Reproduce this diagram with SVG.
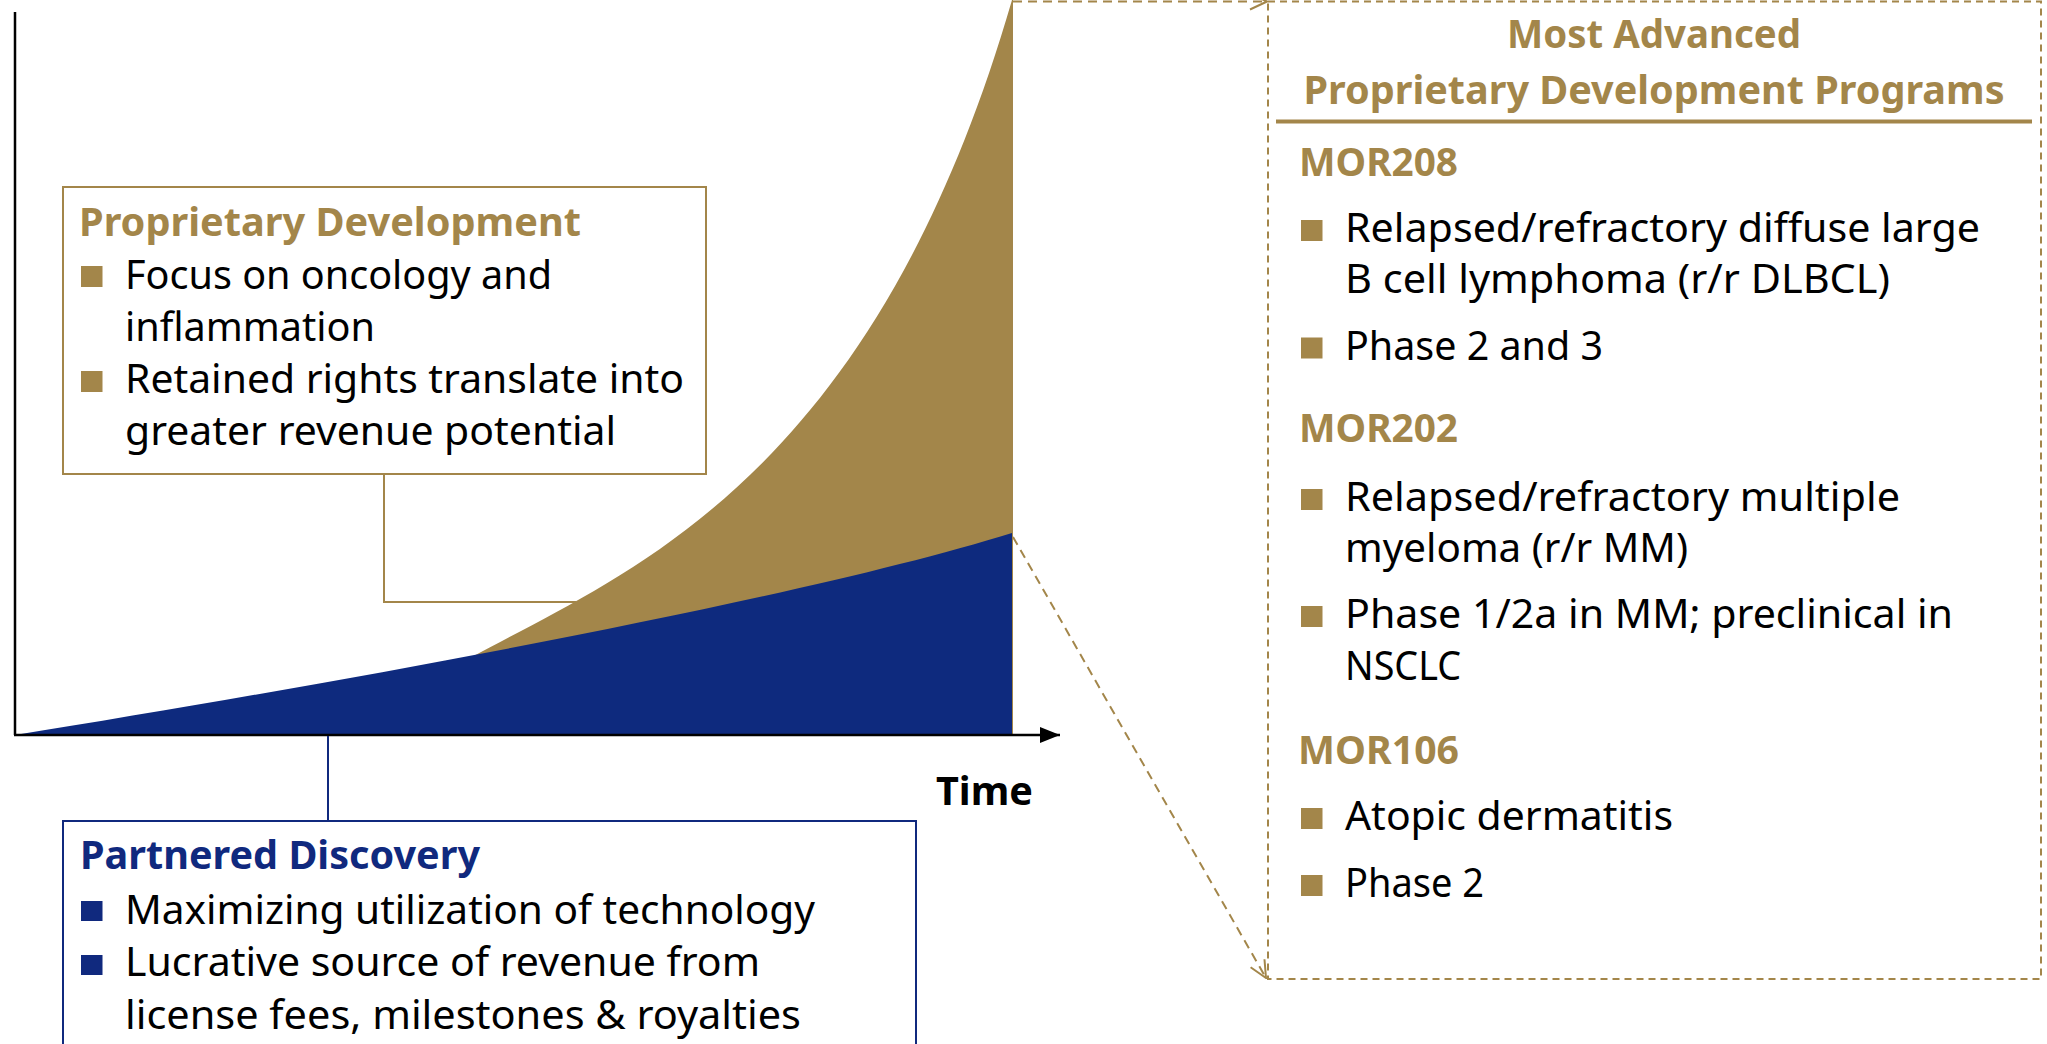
<svg xmlns="http://www.w3.org/2000/svg" width="2047" height="1044" viewBox="0 0 2047 1044">
  <style>
    text { font-family: "Noto Sans", "DejaVu Sans", sans-serif; }
    .body { font-size: 40px; fill: #000000; }
    .ttl { font-size: 39px; font-weight: bold; }
    .gold { fill: #A3864A; }
    .blue { fill: #10297E; }
    .blk { fill: #000000; }
    .gold-line { stroke: #A3864A; stroke-width: 2; fill: none; }
    .blue-line { stroke: #10297E; stroke-width: 2; fill: none; }
    .dash { stroke: #A3864A; stroke-width: 2; fill: none; stroke-dasharray: 9 6; }
  </style>
  <defs>
    <marker id="openArrow" viewBox="0 0 20 20" refX="19" refY="10" markerWidth="20" markerHeight="20" markerUnits="userSpaceOnUse" orient="auto">
      <path d="M2,2 L19,10 L2,18" fill="none" stroke="#A3864A" stroke-width="2"/>
    </marker>
    <marker id="axisArrow" viewBox="0 0 20 16" refX="20" refY="8" markerWidth="20" markerHeight="16" markerUnits="userSpaceOnUse" orient="auto">
      <path d="M0,0 L20,8 L0,16 Z" fill="#000000"/>
    </marker>
  </defs>

  <rect width="2047" height="1044" fill="#FFFFFF"/>

  <!-- growth chart: proprietary (gold) above partnered (blue) -->
  <g id="chart">
    <path id="area-proprietary" d="M470,658 C628,572 873,480 1012,0 L1013,0 L1013,735 L470,735 Z" fill="#A3864A"/>
    <path id="area-partnered" d="M15,735 C350,681 800,599 1012,533 L1012,735 Z" fill="#0E2A7E"/>
    <line x1="15" y1="12" x2="15" y2="735" stroke="#000" stroke-width="2.5"/>
    <line x1="14" y1="735" x2="1060" y2="735" stroke="#000" stroke-width="2.5" marker-end="url(#axisArrow)"/>
    <text class="ttl blk" x="936" y="805" textLength="97" lengthAdjust="spacingAndGlyphs">Time</text>
  </g>

  <!-- connectors -->
  <g id="connectors">
    <polyline class="gold-line" points="384,474 384,602 576,602"/>
    <line class="blue-line" x1="328" y1="736" x2="328" y2="821"/>
    <line class="dash" x1="1013" y1="1.5" x2="1267" y2="1.5" marker-end="url(#openArrow)"/>
    <line class="dash" x1="1013" y1="537" x2="1266" y2="978" marker-end="url(#openArrow)"/>
  </g>

  <!-- Proprietary Development callout -->
  <g id="node-proprietary">
    <rect x="63" y="187" width="643" height="287" fill="#FFFFFF" stroke="#A3864A" stroke-width="2"/>
    <text class="ttl gold" x="79" y="236" textLength="502" lengthAdjust="spacingAndGlyphs">Proprietary Development</text>
    <rect class="gold" x="81" y="266" width="21.5" height="21"/>
    <text class="body" x="125" y="289" textLength="427" lengthAdjust="spacingAndGlyphs">Focus on oncology and</text>
    <text class="body" x="125" y="341" textLength="250" lengthAdjust="spacingAndGlyphs">inflammation</text>
    <rect class="gold" x="81" y="371" width="21.5" height="21"/>
    <text class="body" x="125" y="393" textLength="559" lengthAdjust="spacingAndGlyphs">Retained rights translate into</text>
    <text class="body" x="125" y="445" textLength="491" lengthAdjust="spacingAndGlyphs">greater revenue potential</text>
  </g>

  <!-- Partnered Discovery callout -->
  <g id="node-partnered">
    <path d="M63,1046 L63,821 L916,821 L916,1046" fill="#FFFFFF" stroke="#10297E" stroke-width="2"/>
    <text class="ttl blue" x="80" y="869" textLength="400" lengthAdjust="spacingAndGlyphs">Partnered Discovery</text>
    <rect class="blue" x="81" y="901" width="21.5" height="20"/>
    <text class="body" x="125" y="924" textLength="690" lengthAdjust="spacingAndGlyphs">Maximizing utilization of technology</text>
    <rect class="blue" x="81" y="955" width="21.5" height="20"/>
    <text class="body" x="125" y="976" textLength="635" lengthAdjust="spacingAndGlyphs">Lucrative source of revenue from</text>
    <text class="body" x="125" y="1029" textLength="676" lengthAdjust="spacingAndGlyphs">license fees, milestones &amp; royalties</text>
  </g>

  <!-- Programs panel -->
  <g id="node-programs">
    <rect x="1268" y="1.5" width="773" height="977.5" fill="none" stroke="#A3864A" stroke-width="2" stroke-dasharray="7 5"/>
    <text class="ttl gold" x="1654" y="48" text-anchor="middle" textLength="294" lengthAdjust="spacingAndGlyphs">Most Advanced</text>
    <text class="ttl gold" x="1654" y="104" text-anchor="middle" textLength="701" lengthAdjust="spacingAndGlyphs">Proprietary Development Programs</text>
    <line x1="1276" y1="121.5" x2="2032" y2="121.5" stroke="#A3864A" stroke-width="4"/>

    <text class="ttl gold" x="1299" y="176" textLength="159" lengthAdjust="spacingAndGlyphs">MOR208</text>
    <rect class="gold" x="1301" y="220" width="21.5" height="21"/>
    <text class="body" x="1345" y="241.5" textLength="635" lengthAdjust="spacingAndGlyphs">Relapsed/refractory diffuse large</text>
    <text class="body" x="1345" y="293" textLength="545" lengthAdjust="spacingAndGlyphs">B cell lymphoma (r/r DLBCL)</text>
    <rect class="gold" x="1301" y="337.5" width="21.5" height="21"/>
    <text class="body" x="1345" y="359.5" textLength="258" lengthAdjust="spacingAndGlyphs">Phase 2 and 3</text>

    <text class="ttl gold" x="1299" y="442" textLength="159" lengthAdjust="spacingAndGlyphs">MOR202</text>
    <rect class="gold" x="1301" y="489" width="21.5" height="21"/>
    <text class="body" x="1345" y="511" textLength="555" lengthAdjust="spacingAndGlyphs">Relapsed/refractory multiple</text>
    <text class="body" x="1345" y="561.5" textLength="343" lengthAdjust="spacingAndGlyphs">myeloma (r/r MM)</text>
    <rect class="gold" x="1301" y="606" width="21.5" height="21"/>
    <text class="body" x="1345" y="628" textLength="608" lengthAdjust="spacingAndGlyphs">Phase 1/2a in MM; preclinical in</text>
    <text class="body" x="1345" y="680" textLength="116" lengthAdjust="spacingAndGlyphs">NSCLC</text>

    <text class="ttl gold" x="1298" y="764" textLength="161" lengthAdjust="spacingAndGlyphs">MOR106</text>
    <rect class="gold" x="1301" y="808" width="21.5" height="21"/>
    <text class="body" x="1345" y="830" textLength="328" lengthAdjust="spacingAndGlyphs">Atopic dermatitis</text>
    <rect class="gold" x="1301" y="875" width="21.5" height="21"/>
    <text class="body" x="1345" y="896.5" textLength="139" lengthAdjust="spacingAndGlyphs">Phase 2</text>
  </g>
</svg>
